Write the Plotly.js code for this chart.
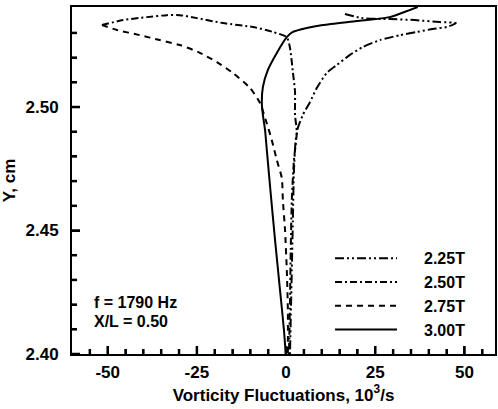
<!DOCTYPE html>
<html>
<head>
<meta charset="utf-8">
<script src="https://cdn.plot.ly/plotly-3.0.1.min.js"></script>
<style>html,body{margin:0;padding:0;background:#fff;}#chart{width:498px;height:409px;}</style>
</head>
<body>
<div id="chart"></div>
<script>
// Series (x: vorticity fluctuations, 10^3/s; y: Y, cm)
const seriesNames = ["2.25T", "2.50T", "2.75T", "3.00T"];

const x225 = [16.5, 21.2, 29.1, 36.1, 43.1, 47.6, 45.1, 41.1, 36.7, 31.9, 26.3, 21.5, 17.9, 14.2, 11.4, 8.6, 6.7, 4.7, 3.3, 2.7, 2.2, 1.9, 1.6, 1.3, 1.1];
const y225 = [2.5377, 2.5360, 2.5356, 2.5352, 2.5344, 2.5340, 2.5324, 2.5316, 2.5304, 2.5291, 2.5271, 2.5243, 2.5211, 2.5170, 2.5138, 2.5077, 2.5020, 2.4968, 2.4915, 2.4866, 2.4745, 2.4543, 2.4340, 2.4138, 2.4000];

const x250 = [-51.6, -45.7, -39.0, -33.4, -29.8, -25.0, -17.7, -9.3, -3.7, 0.2, 1.1, 1.9, 2.5, 2.5, 3.0, 2.2, 1.6, 1.3, 1.1, 0.8];
const y250 = [2.5332, 2.5352, 2.5364, 2.5372, 2.5372, 2.5360, 2.5340, 2.5324, 2.5304, 2.5283, 2.5239, 2.5142, 2.5061, 2.4968, 2.4899, 2.4785, 2.4623, 2.4421, 2.4219, 2.4000];

const x275 = [-51.6, -47.4, -41.0, -35.4, -29.8, -24.7, -19.4, -14.9, -10.1, -7.3, -5.7, -4.0, -2.6, -1.2, -0.9, -0.3, 0.2, 0.5, 0.5];
const y275 = [2.5332, 2.5312, 2.5291, 2.5271, 2.5251, 2.5223, 2.5182, 2.5138, 2.5077, 2.5016, 2.4947, 2.4866, 2.4785, 2.4713, 2.4623, 2.4502, 2.4340, 2.4178, 2.4000];

const x300 = [-0.1, -0.6, -1.7, -3.1, -4.4, -5.4, -5.9, -6.5, -6.8, -6.5, -5.1, -2.6, 0.2, 1.9, 5.8, 10.3, 19.8, 29.0, 34.7, 36.9];
const y300 = [2.4000, 2.4097, 2.4259, 2.4462, 2.4664, 2.4826, 2.4907, 2.4968, 2.5016, 2.5081, 2.5150, 2.5219, 2.5283, 2.5304, 2.5320, 2.5332, 2.5348, 2.5364, 2.5393, 2.5405];

const xTickVals = [-50, -25, 0, 25, 50];
const xTickText = ["-50", "-25", "0", "25", "50"];
const xMinorVals = [-55, -45, -40, -35, -30, -20, -15, -10, -5, 5, 10, 15, 20, 30, 35, 40, 45, 55];
const yTickVals = [2.40, 2.45, 2.50];
const yTickText = ["2.40", "2.45", "2.50"];
const yMinorVals = [2.41, 2.42, 2.43, 2.44, 2.46, 2.47, 2.48, 2.49, 2.51, 2.52, 2.53];
const noteLines = ["f = 1790 Hz", "X/L = 0.50"];

const FONT = "Liberation Sans, Arial, Helvetica, sans-serif";
const dashes = ["9px,3px,2px,3px,2px,3px", "7px,3px,2px,3px", "6px,5px", "solid"];
const xs = [x225, x250, x275, x300];
const ys = [y225, y250, y275, y300];

const X_RANGE = [-60, 58.55], Y_RANGE = [2.40, 2.5405];
const PW = 498 - 72 - 3, PH = 409 - 7 - 55;   // plot area in px
const xPerPx = (X_RANGE[1] - X_RANGE[0]) / PW, yPerPx = (Y_RANGE[1] - Y_RANGE[0]) / PH;

const traces = seriesNames.map((n, i) => ({
  type: "scatter", mode: "lines", name: n,
  x: xs[i], y: ys[i],
  line: {color: "#000", width: 2, dash: dashes[i], shape: "spline", smoothing: 0.6},
  legendgroup: "g" + i
}));

// inside tick marks (major 8 px, minor 5 px), built from the tick arrays
const tx = [], ty = [];
const addX = (v, len) => { tx.push(v, v, null); ty.push(Y_RANGE[0], Y_RANGE[0] + len * yPerPx, null); };
const addY = (v, len) => { tx.push(X_RANGE[0], X_RANGE[0] + len * xPerPx, null); ty.push(v, v, null); };
xTickVals.forEach(v => addX(v, 8)); xMinorVals.forEach(v => addX(v, 5));
yTickVals.forEach(v => addY(v, 8)); yMinorVals.forEach(v => addY(v, 5));
traces.push({type: "scatter", mode: "lines", x: tx, y: ty, connectgaps: false,
  line: {color: "#000", width: 2.5}, showlegend: false, hoverinfo: "skip", name: "ticks"});

const bold = (s) => ({family: FONT, size: s, color: "#000", weight: "bold"});

const layout = {
  width: 498, height: 409,
  margin: {l: 72, r: 3, t: 7, b: 55},
  paper_bgcolor: "#fff", plot_bgcolor: "#fff",
  showlegend: true,
  legend: {
    x: 0.61, y: 0.325, xanchor: "left", yanchor: "top",
    bgcolor: "rgba(0,0,0,0)", borderwidth: 0,
    font: bold(16),
    tracegroupgap: 0, itemwidth: 84
  },
  xaxis: {
    range: X_RANGE, showgrid: false, zeroline: false,
    showline: true, linecolor: "#000", linewidth: 2, mirror: true,
    tickmode: "array", tickvals: xTickVals, ticktext: xTickText,
    ticks: "inside", ticklen: 8, tickwidth: 2, tickcolor: "#000",
    minor: {tickmode: "array", tickvals: xMinorVals, ticks: "inside", ticklen: 5, tickwidth: 2, tickcolor: "#000", showgrid: false},
    tickfont: bold(17),
    ticklabelstandoff: 2,
    title: {text: "Vorticity Fluctuations, 10<sup>3</sup>/s", font: bold(17), standoff: 2}
  },
  yaxis: {
    range: Y_RANGE, showgrid: false, zeroline: false,
    showline: true, linecolor: "#000", linewidth: 2, mirror: true,
    tickmode: "array", tickvals: yTickVals, ticktext: yTickText,
    ticks: "inside", ticklen: 8, tickwidth: 2, tickcolor: "#000",
    minor: {tickmode: "array", tickvals: yMinorVals, ticks: "inside", ticklen: 5, tickwidth: 2, tickcolor: "#000", showgrid: false},
    tickfont: bold(17),
    ticklabelstandoff: 8,
    title: {text: "Y, cm", font: bold(17), standoff: 6}
  },
  annotations: noteLines.map((t, i) => ({
    xref: "paper", yref: "paper", x: 0.048, y: (354 - 302 - i * 19) / 347,
    xanchor: "left", yanchor: "middle", showarrow: false, text: t,
    font: bold(16)
  }))
};

Plotly.newPlot("chart", traces, layout, {displayModeBar: false, staticPlot: true}).then(function (gd) {
  // lengthen legend line samples to match the reference key
  gd.querySelectorAll(".legend .legendlines path").forEach(function (p) {
    p.setAttribute("d", "M5,0h62");
  });
});
</script>
</body>
</html>
